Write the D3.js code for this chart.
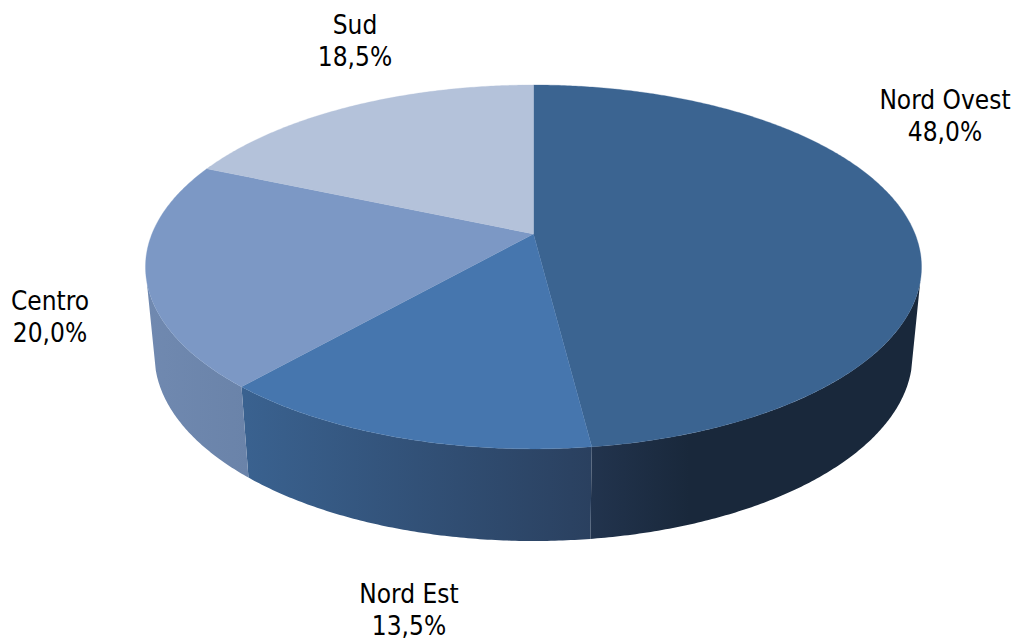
<!DOCTYPE html>
<html><head><meta charset="utf-8">
<script src="https://cdn.jsdelivr.net/npm/d3@7"></script>
<style>html,body{margin:0;padding:0;background:#fff;overflow:hidden}
text{font-family:"DejaVu Sans Condensed","DejaVu Sans",sans-serif;font-stretch:condensed;font-size:26px;fill:#000}</style>
</head><body><svg id="c" width="1014" height="640"></svg>
<script>
const categories = ["Nord Ovest","Nord Est","Centro","Sud"];
const shares = [48.0,13.5,20.0,18.5];
const shareLabels = ["48,0%","13,5%","20,0%","18,5%"];
const topColors = ["#3b6491","#4676ae","#7c98c5","#b4c2da"];
const wallStops = [
  [["#22344e",0],["#19283b",0.3],["#19283b",1]],
  [["#3a6290",0],["#2a405f",1]],
  [["#7089b0",0],["#6a83a9",1]],
  [["#8fa2c2",0],["#8fa2c2",1]]
];
const labelX = [945,409,50,355];
const labelY = [109,603,310,34];

const svg = d3.select("#c");
const defs = svg.append("defs");
const pie = d3.pie().sort(null).value(d=>d)(shares);

// perspective mapping of the disc: top face and bottom face
const topFace = {a:381.6,b:176,k:0.181,y0:234};
const botFace = {a:372.8,b:180,k:0.18,y0:321.5};
const cx = 533.5;
function proj(f,th){const u=Math.sin(th),v=-Math.cos(th),w=1-f.k*v;return [cx+f.a*u/w,f.y0+f.b*v/w];}
const step = Math.PI/360;
const line = d3.line();
const angles = (a,b)=>d3.range(a,b,step).concat([b]);

// visible part of the side wall, one band per slice
const wallMin = Math.PI*0.583, wallMax = Math.PI*1.417;
pie.forEach((p,i)=>{
  const a = Math.max(p.startAngle,wallMin), b = Math.min(p.endAngle,wallMax);
  if (a>=b) return;
  const ths = angles(a,b);
  const pts = ths.map(t=>proj(topFace,t)).concat(ths.slice().reverse().map(t=>proj(botFace,t)));
  const ext = d3.extent(pts,d=>d[0]);
  const g = defs.append("linearGradient").attr("id","w"+i).attr("gradientUnits","userSpaceOnUse")
    .attr("x1",ext[0]).attr("x2",ext[1]).attr("y1",0).attr("y2",0);
  g.selectAll("stop").data(wallStops[i]).join("stop")
    .attr("offset",d=>d[1]).attr("stop-color",d=>d[0]);
  svg.append("path").attr("d",line(pts)+"Z").attr("fill",`url(#w${i})`);
});

// top face
svg.append("g").selectAll("path").data(pie).join("path")
  .attr("d",p=>line([[cx,topFace.y0]].concat(angles(p.startAngle,p.endAngle).map(t=>proj(topFace,t))))+"Z")
  .attr("fill",(p,i)=>topColors[i])
  .attr("stroke",(p,i)=>topColors[i]).attr("stroke-width",0.3);

// labels
const lab = svg.append("g").selectAll("text").data(categories).join("text")
  .attr("text-anchor","middle")
  .attr("x",(d,i)=>labelX[i]).attr("y",(d,i)=>labelY[i]);
lab.append("tspan").text(d=>d);
lab.append("tspan").attr("x",(d,i)=>labelX[i]).attr("dy",32).text((d,i)=>shareLabels[i]);
</script></body></html>
